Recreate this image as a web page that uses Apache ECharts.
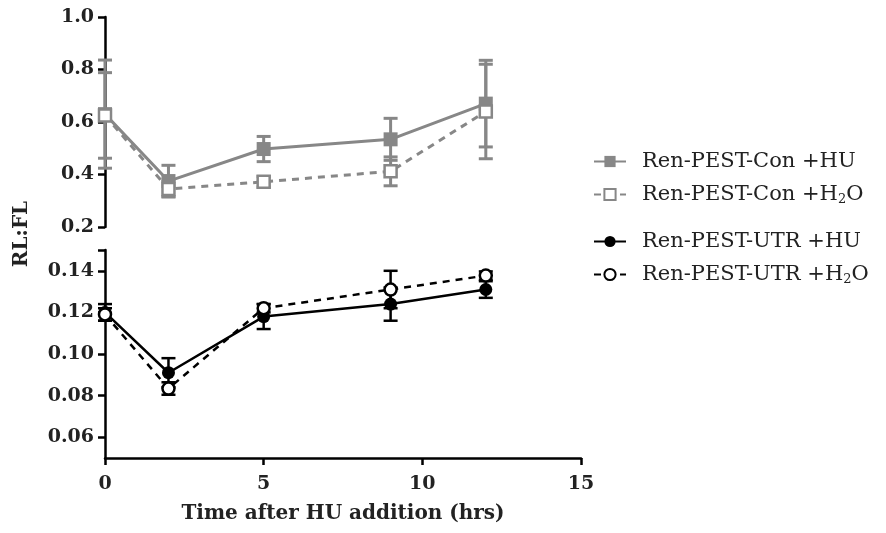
<!DOCTYPE html>
<html>
<head>
<meta charset="utf-8">
<script src="https://cdn.jsdelivr.net/npm/echarts@6/dist/echarts.min.js"></script>
<style>
html, body { margin: 0; padding: 0; background: #fff; }
#chart { width: 886px; height: 533px; }
</style>
</head>
<body>
<div id="chart"></div>
<script>
// hours after HU addition
var times = [0, 2, 5, 9, 12];
var xTicks = [0, 5, 10, 15];

// Ren-PEST-Con (upper panel)
var conHU = [0.63, 0.375, 0.497, 0.534, 0.67];
var conHUErr = [0.206, 0.06, 0.048, 0.08, 0.165];
var conH2O = [0.625, 0.345, 0.372, 0.412, 0.64];
var conH2OErr = [0.163, 0.03, 0.02, 0.055, 0.18];

// Ren-PEST-UTR (lower panel)
var utrHU = [0.12, 0.091, 0.118, 0.124, 0.131];
var utrHUErr = [0.004, 0.007, 0.006, 0.008, 0.004];
var utrH2O = [0.119, 0.0834, 0.122, 0.131, 0.1377];
var utrH2OErr = [0.003, 0.003, 0.002, 0.009, 0.002];

var upperTicks = [0.2, 0.4, 0.6, 0.8, 1.0];
var lowerTicks = [0.06, 0.08, 0.10, 0.12, 0.14];

var names = ['Ren-PEST-Con +HU', 'Ren-PEST-Con +H2O', 'Ren-PEST-UTR +HU', 'Ren-PEST-UTR +H2O'];

var GRAY = '#878787';
var BLACK = '#000';
var FONT = 'DejaVu Serif';

var el = document.getElementById('chart');
var myChart = echarts.init(el);

function pairs(ys) {
    return times.map(function (t, i) { return [t, ys[i]]; });
}

function errData(ys, errs) {
    return times.map(function (t, i) { return [t, ys[i] - errs[i], ys[i] + errs[i]]; });
}

function errorBars(name, ys, errs, color, width, axis) {
    return {
        type: 'custom',
        name: name + ' err',
        xAxisIndex: axis,
        yAxisIndex: axis,
        z: 1,
        silent: true,
        data: errData(ys, errs),
        encode: { x: 0, y: [1, 2] },
        renderItem: function (params, api) {
            var lo = api.coord([api.value(0), api.value(1)]);
            var hi = api.coord([api.value(0), api.value(2)]);
            var w = 7;
            var style = { stroke: color, lineWidth: width };
            return {
                type: 'group',
                children: [
                    { type: 'line', shape: { x1: lo[0], y1: lo[1], x2: hi[0], y2: hi[1] }, style: style },
                    { type: 'line', shape: { x1: hi[0] - w, y1: hi[1], x2: hi[0] + w, y2: hi[1] }, style: style },
                    { type: 'line', shape: { x1: lo[0] - w, y1: lo[1], x2: lo[0] + w, y2: lo[1] }, style: style }
                ]
            };
        }
    };
}

function lineSeries(name, ys, axis, opts) {
    return {
        type: 'line',
        name: name,
        xAxisIndex: axis,
        yAxisIndex: axis,
        z: 3,
        data: pairs(ys),
        symbol: opts.symbol,
        symbolSize: opts.size,
        lineStyle: { color: opts.color, width: opts.width, type: opts.dash ? [7, 6] : 'solid' },
        itemStyle: {
            color: opts.open ? '#fff' : opts.color,
            borderColor: opts.color,
            borderWidth: opts.open ? 2.5 : 0
        },
        emphasis: { disabled: true },
        animation: false
    };
}

var tickLabel = { fontFamily: FONT, fontWeight: 'bold', fontSize: 19, color: '#222' };
var axisLine = { show: true, lineStyle: { color: BLACK, width: 2.5 } };
var axisTick = { show: true, length: 7, lineStyle: { color: BLACK, width: 2.5 } };

function legendFormatter(name) {
    return name.replace('H2O', 'H{sub|2}O');
}

var legendText = {
    fontFamily: FONT,
    fontSize: 21,
    color: '#222',
    padding: [0, 0, 0, 11],
    rich: {
        sub: { fontFamily: FONT, fontSize: 13, color: '#222', padding: [10, 0, 0, 0] }
    }
};

function legendBox(items, top) {
    return {
        data: items,
        orient: 'vertical',
        left: 588,
        top: top,
        itemWidth: 32,
        itemHeight: 14,
        itemGap: 12,
        selectedMode: false,
        formatter: legendFormatter,
        textStyle: legendText
    };
}

var option = {
    backgroundColor: '#fff',
    animation: false,
    grid: [
        { left: 105, top: 17, width: 476, height: 210 },
        { left: 105, top: 250, width: 476, height: 208 }
    ],
    xAxis: [
        { type: 'value', gridIndex: 0, min: 0, max: 15, interval: 5, show: false },
        {
            type: 'value', gridIndex: 1, min: 0, max: 15, interval: 5,
            axisLine: axisLine, axisTick: axisTick, splitLine: { show: false },
            axisLabel: Object.assign({ margin: 17 }, tickLabel),
            name: 'Time after HU addition (hrs)',
            nameLocation: 'middle',
            nameGap: 46,
            nameTextStyle: { fontFamily: FONT, fontWeight: 'bold', fontSize: 20, color: '#222' }
        }
    ],
    yAxis: [
        {
            type: 'value', gridIndex: 0, min: 0.2, max: 1.0, interval: 0.2,
            axisLine: axisLine, axisTick: axisTick, splitLine: { show: false },
            axisLabel: Object.assign({ margin: 11, formatter: function (v) { return v.toFixed(1); } }, tickLabel)
        },
        {
            type: 'value', gridIndex: 1, min: 0.05, max: 0.15,
            axisLine: axisLine,
            axisTick: Object.assign({ customValues: lowerTicks.concat([0.15]) }, axisTick),
            splitLine: { show: false },
            axisLabel: Object.assign({
                margin: 11,
                customValues: lowerTicks,
                formatter: function (v) { return v.toFixed(2); }
            }, tickLabel)
        }
    ],
    legend: [
        legendBox(names.slice(0, 2), 146),
        legendBox(names.slice(2), 226)
    ],
    graphic: [
        {
            type: 'text',
            x: 22,
            y: 234,
            rotation: Math.PI / 2,
            style: {
                text: 'RL:FL',
                fontFamily: FONT,
                fontWeight: 'bold',
                fontSize: 20,
                fill: '#222',
                align: 'center',
                verticalAlign: 'middle'
            }
        }
    ],
    series: [
        errorBars(names[0], conHU, conHUErr, GRAY, 3, 0),
        errorBars(names[1], conH2O, conH2OErr, GRAY, 3, 0),
        errorBars(names[2], utrHU, utrHUErr, BLACK, 2.5, 1),
        errorBars(names[3], utrH2O, utrH2OErr, BLACK, 2.5, 1),
        lineSeries(names[0], conHU, 0, { symbol: 'rect', size: 14, color: GRAY, width: 3 }),
        lineSeries(names[1], conH2O, 0, { symbol: 'rect', size: 12, color: GRAY, width: 3, dash: true, open: true }),
        lineSeries(names[2], utrHU, 1, { symbol: 'circle', size: 13, color: BLACK, width: 2.5 }),
        lineSeries(names[3], utrH2O, 1, { symbol: 'circle', size: 12, color: BLACK, width: 2.5, dash: true, open: true })
    ]
};

myChart.setOption(option);
</script>
</body>
</html>
